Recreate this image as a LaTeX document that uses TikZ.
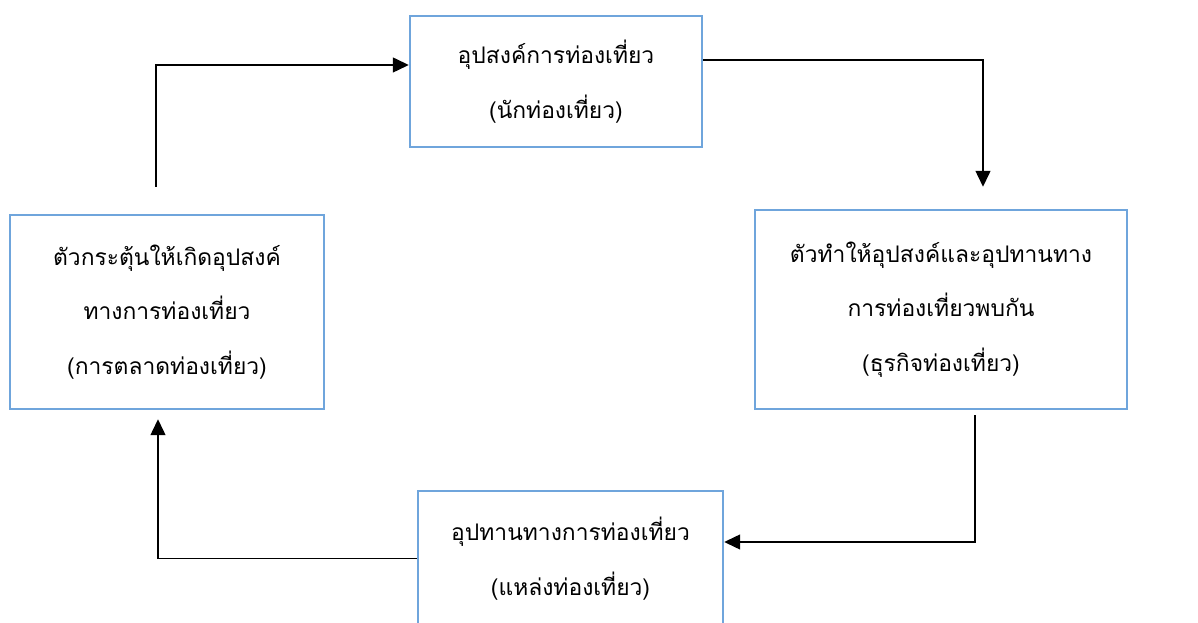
\documentclass[tikz,border=0pt]{standalone}
\usepackage{fontspec}
\newfontfamily\thaifont[Script=Thai]{Loma}
\usetikzlibrary{arrows.meta}
\definecolor{boxblue}{RGB}{111,165,220}
\begin{document}
\begin{tikzpicture}[
    box/.style={draw=boxblue, line width=1.4pt, align=center, inner sep=0pt,
        font=\thaifont\fontsize{13}{31}\selectfont},
    flow/.style={line width=0.8pt, -{Triangle[length=3.2mm,width=3mm]}}
    ]
        \useasboundingbox (0,0) rectangle (23.96,12.44);
        \clip (0,0) rectangle (23.96,12.44);
        \node[box, minimum width=5.84cm, minimum height=2.62cm] (demand) at (11.12,10.81)
            {อุปสงค์การท่องเที่ยว\\(นักท่องเที่ยว)};
        \node[box, minimum width=6.28cm, minimum height=3.88cm] (stimulus) at (3.34,6.2)
            {ตัวกระตุ้นให้เกิดอุปสงค์\\ทางการท่องเที่ยว\\(การตลาดท่องเที่ยว)};
        \node[box, minimum width=7.44cm, minimum height=3.98cm] (business) at (18.82,6.25)
            {ตัวทำให้อุปสงค์และอุปทานทาง\\การท่องเที่ยวพบกัน\\(ธุรกิจท่องเที่ยว)};
        \node[box, minimum width=6.1cm, minimum height=2.7cm] (supply) at (11.41,1.27)
            {อุปทานทางการท่องเที่ยว\\(แหล่งท่องเที่ยว)};
        \draw[flow] ([xshift=-2.2mm, yshift=5.4mm]stimulus.north) |- ([yshift=3.3mm]demand.west);
        \draw[flow] ([yshift=4.3mm]demand.east) -| ([xshift=8.4mm, yshift=4.4mm]business.north);
        \draw[flow] ([xshift=6.8mm, yshift=-1mm]business.south) |- ([yshift=3.3mm]supply.east);
        \draw[flow] (supply.west) -| ([xshift=-1.8mm, yshift=-1.8mm]stimulus.south);
\end{tikzpicture}
\end{document}
